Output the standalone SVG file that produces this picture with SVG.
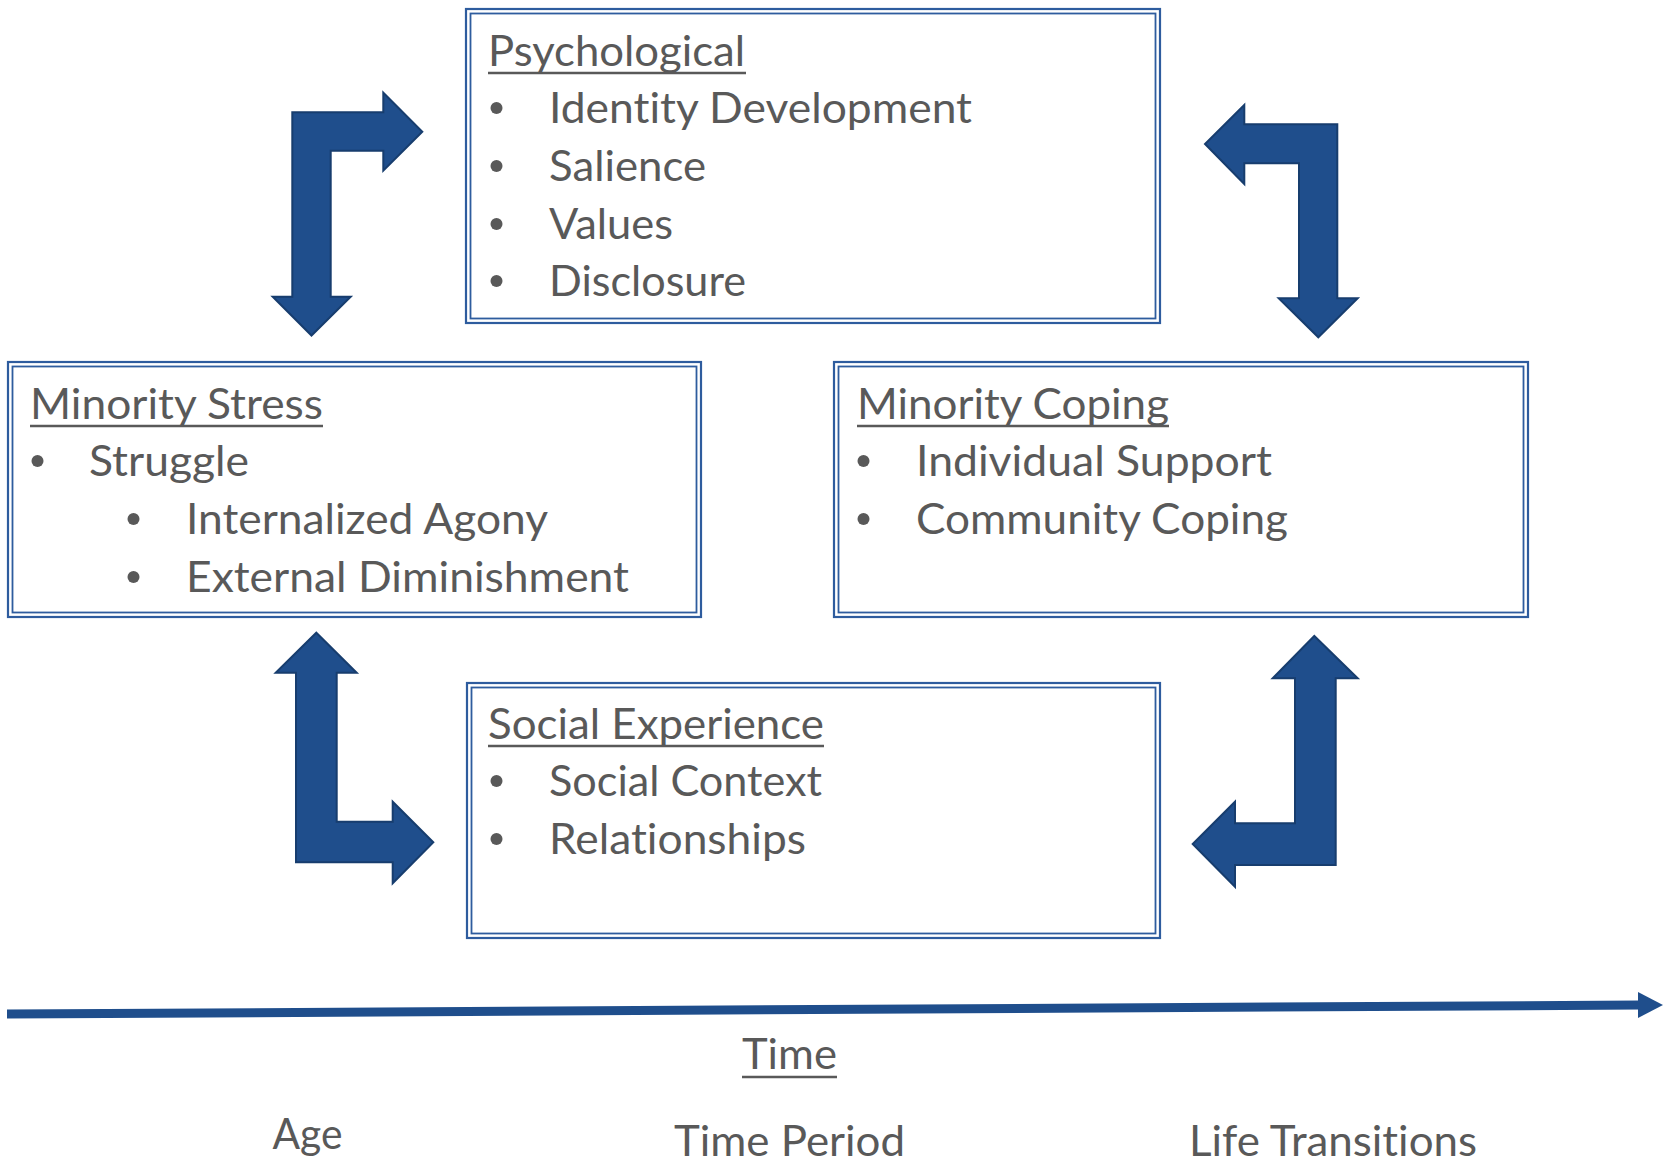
<svg xmlns="http://www.w3.org/2000/svg" width="1669" height="1161" viewBox="0 0 1669 1161">
  <style>
    .frame-out { fill: none; stroke: #2e5c9e; stroke-width: 2.2; }
    .frame-in { fill: none; stroke: #2e5c9e; stroke-width: 1.8; }
    .txt { font-family: Lato, "Open Sans", "Liberation Sans", sans-serif; font-size: 42px; fill: #595959; font-variant-ligatures: none; font-feature-settings: "liga" 0, "clig" 0; }
    .ul { stroke: #595959; stroke-width: 2.6; }
    .dot { fill: #595959; }
    .bend { fill: #1f4e8c; stroke: #173d6e; stroke-width: 2; stroke-linejoin: miter; }
    .axis { stroke: #1f4e8c; stroke-width: 9; fill: none; }
  </style>

  <rect width="1669" height="1161" fill="#ffffff"/>

  <!-- Psychological -->
  <g id="psychological">
    <rect class="frame-out" x="466" y="9" width="694" height="314"/>
    <rect class="frame-in" x="470.5" y="13.5" width="685" height="305"/>
    <text class="txt" x="488" y="66" textLength="257" lengthAdjust="spacingAndGlyphs">Psychological</text>
    <line class="ul" x1="488" y1="73" x2="746" y2="73"/>
    <circle class="dot" cx="496.5" cy="108" r="6"/>
    <text class="txt" x="549" y="123" textLength="423" lengthAdjust="spacingAndGlyphs">Identity Development</text>
    <circle class="dot" cx="496.5" cy="166" r="6"/>
    <text class="txt" x="549" y="181" textLength="157" lengthAdjust="spacingAndGlyphs">Salience</text>
    <circle class="dot" cx="496.5" cy="224" r="6"/>
    <text class="txt" x="549" y="239" textLength="124" lengthAdjust="spacingAndGlyphs">Values</text>
    <circle class="dot" cx="496.5" cy="281" r="6"/>
    <text class="txt" x="549" y="296" textLength="197" lengthAdjust="spacingAndGlyphs">Disclosure</text>
  </g>

  <!-- Minority Stress -->
  <g id="minority-stress">
    <rect class="frame-out" x="8" y="362" width="693" height="255"/>
    <rect class="frame-in" x="12.5" y="366.5" width="684" height="246"/>
    <text class="txt" x="30" y="419" textLength="293" lengthAdjust="spacingAndGlyphs">Minority Stress</text>
    <line class="ul" x1="30" y1="426" x2="323" y2="426"/>
    <circle class="dot" cx="37.5" cy="461" r="6"/>
    <text class="txt" x="89" y="476" textLength="160" lengthAdjust="spacingAndGlyphs">Struggle</text>
    <circle class="dot" cx="133.5" cy="519" r="6"/>
    <text class="txt" x="186" y="534" textLength="362" lengthAdjust="spacingAndGlyphs">Internalized Agony</text>
    <circle class="dot" cx="133.5" cy="577" r="6"/>
    <text class="txt" x="186" y="592" textLength="443" lengthAdjust="spacingAndGlyphs">External Diminishment</text>
  </g>

  <!-- Minority Coping -->
  <g id="minority-coping">
    <rect class="frame-out" x="834" y="362" width="694" height="255"/>
    <rect class="frame-in" x="838.5" y="366.5" width="685" height="246"/>
    <text class="txt" x="857" y="419" textLength="312" lengthAdjust="spacingAndGlyphs">Minority Coping</text>
    <line class="ul" x1="857" y1="426" x2="1169" y2="426"/>
    <circle class="dot" cx="863.5" cy="461" r="6"/>
    <text class="txt" x="916" y="476" textLength="356" lengthAdjust="spacingAndGlyphs">Individual Support</text>
    <circle class="dot" cx="863.5" cy="519" r="6"/>
    <text class="txt" x="916" y="534" textLength="372" lengthAdjust="spacingAndGlyphs">Community Coping</text>
  </g>

  <!-- Social Experience -->
  <g id="social-experience">
    <rect class="frame-out" x="467" y="683" width="693" height="255"/>
    <rect class="frame-in" x="471.5" y="687.5" width="684" height="246"/>
    <text class="txt" x="488" y="739" textLength="336" lengthAdjust="spacingAndGlyphs">Social Experience</text>
    <line class="ul" x1="488" y1="746" x2="824" y2="746"/>
    <circle class="dot" cx="496.5" cy="781" r="6"/>
    <text class="txt" x="549" y="796" textLength="273" lengthAdjust="spacingAndGlyphs">Social Context</text>
    <circle class="dot" cx="496.5" cy="839" r="6"/>
    <text class="txt" x="549" y="854" textLength="257" lengthAdjust="spacingAndGlyphs">Relationships</text>
  </g>

  <!-- Bent double-headed connectors and the time axis -->
  <g id="connectors">
    <path class="bend" d="M292.3,296.7 L292.3,112.3 L383.3,112.3 L383.3,92.7 L422.3,131.7 L383.3,170.7 L383.3,150.7 L330.7,150.7 L330.7,296.7 L350.7,296.7 L311.5,335.5 L272.7,296.7 Z"/>
    <path class="bend" d="M1337.3,298.3 L1337.3,124.3 L1244.3,124.3 L1244.3,105 L1205,144 L1244.3,184 L1244.3,163.3 L1299,163.3 L1299,298.3 L1278.7,298.3 L1318.3,337.3 L1357.7,298.3 Z"/>
    <path class="bend" d="M296,672.7 L296,862.3 L392.7,862.3 L392.7,883.3 L433.3,842.3 L392.7,801.7 L392.7,821.7 L336.7,821.7 L336.7,672.7 L356.7,672.7 L316.3,632.7 L275.7,672.7 Z"/>
    <path class="bend" d="M1335.7,678.3 L1335.7,865 L1235,865 L1235,886.7 L1192.7,844 L1235,801.7 L1235,823.3 L1295,823.3 L1295,678.3 L1272.7,678.3 L1314.3,636 L1357.7,678.3 Z"/>

    <line class="axis" x1="7" y1="1014" x2="1640" y2="1005"/>
    <polygon points="1638,992 1663,1005 1638,1018" fill="#1f4e8c"/>
  </g>

  <!-- Time axis labels -->
  <g id="time-labels">
    <text class="txt" x="742" y="1069" textLength="95" lengthAdjust="spacingAndGlyphs">Time</text>
    <line class="ul" x1="742" y1="1077" x2="837" y2="1077"/>
    <text class="txt" x="272.5" y="1149" textLength="70" lengthAdjust="spacingAndGlyphs">Age</text>
    <text class="txt" x="674" y="1156" textLength="231" lengthAdjust="spacingAndGlyphs">Time Period</text>
    <text class="txt" x="1189" y="1156" textLength="288" lengthAdjust="spacingAndGlyphs">Life Transitions</text>
  </g>
</svg>
